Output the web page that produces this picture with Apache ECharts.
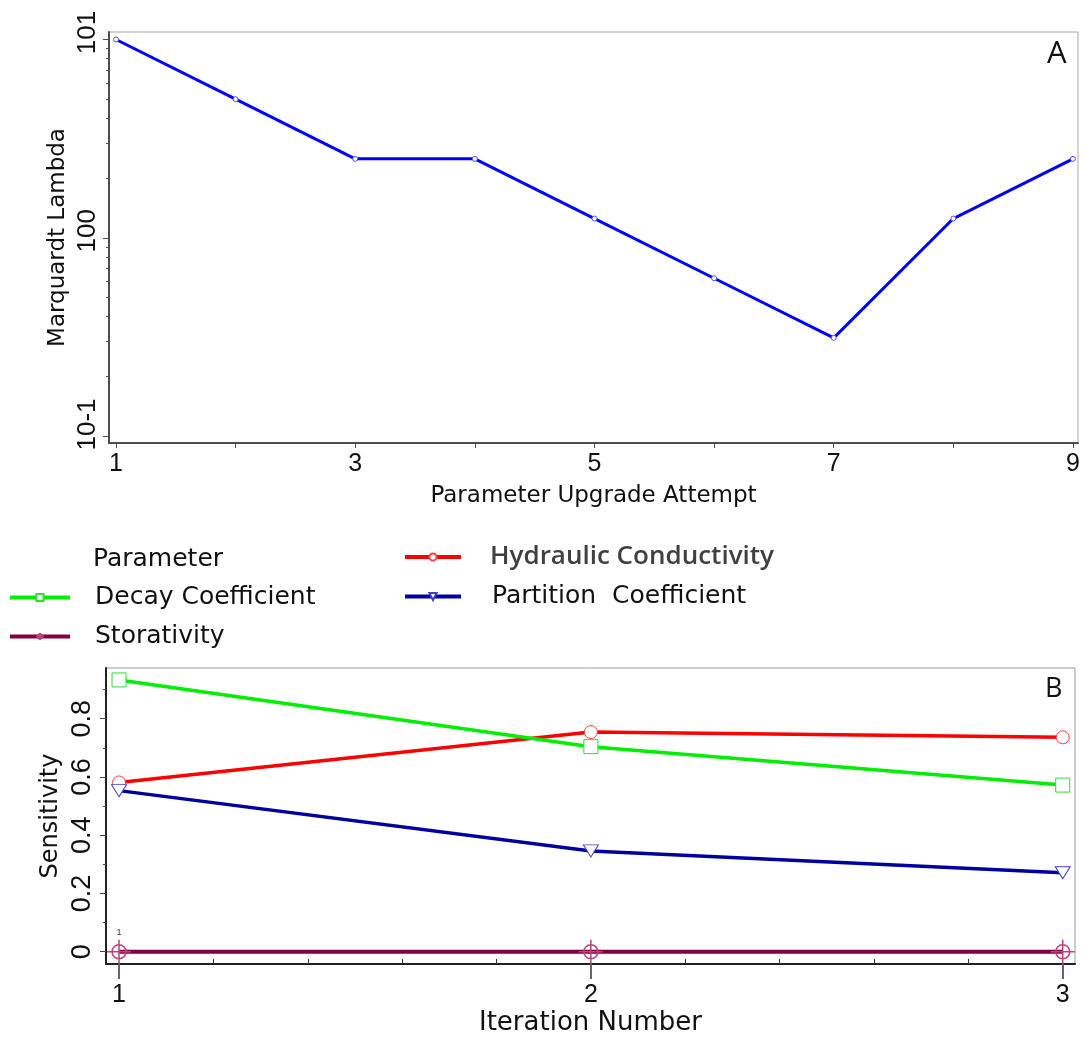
<!DOCTYPE html>
<html><head><meta charset="utf-8">
<script src="https://cdn.jsdelivr.net/npm/echarts@6/dist/echarts.min.js"></script>
<style>html,body{margin:0;padding:0;background:#fff}#c{width:1083px;height:1040px}</style>
</head><body><div id="c"></div>
<script>
// ---------- Panel A data ----------
const attempts = [1, 2, 3, 4, 5, 6, 7, 8, 9];
const lambdaValues = [10, 5, 2.5, 2.5, 1.25, 0.625, 0.3125, 1.25, 2.5];
const attemptTicks = [1, 2, 3, 4, 5, 6, 7, 8, 9];
const attemptLabels = [1, 3, 5, 7, 9];
const attemptRange = [0.9415, 9.042];
const lambdaMajorTicks = [0.1, 1, 10];
const lambdaMinorTicks = [0.2, 0.3, 0.4, 0.5, 0.6, 0.7, 0.8, 0.9, 2, 3, 4, 5, 6, 7, 8, 9];
const lambdaRange = [0.0922, 10.91];

// ---------- Panel B data ----------
const iterations = [1, 2, 3];
const hydraulic = [0.581, 0.754, 0.736];
const decay = [0.933, 0.704, 0.572];
const partition = [0.553, 0.346, 0.271];
const storativity = [0, 0, 0];
const iterMajorTicks = [1, 2, 3];
const iterMinorTicks = [1.2, 1.4, 1.6, 1.8, 2.2, 2.4, 2.6, 2.8];
const iterRange = [0.9724, 3.026];
const sensMajorTicks = [0, 0.2, 0.4, 0.6, 0.8];
const sensMinorTicks = [0.1, 0.3, 0.5, 0.7, 0.9];
const sensRange = [-0.0422, 0.974];

const SANS = 'DejaVu Sans';
const ARIAL = 'Liberation Sans';
const TXT = '#111';

const pairs = (xs, ys) => xs.map((x, i) => [x, ys[i]]);
const lg = v => Math.log10(v);

const chart = echarts.init(document.getElementById('c'), null, {renderer: 'canvas'});

const option = {
  animation: false,
  backgroundColor: '#fff',
  title: [
    {text: 'A', left: 1047, top: 39, padding: 0,
     textStyle: {fontFamily: 'Open Sans', fontSize: 31, fontWeight: 'normal', color: TXT}},
    {text: 'B', left: 1045, top: 676, padding: 0,
     textStyle: {fontFamily: 'Open Sans', fontSize: 27, fontWeight: 'normal', color: TXT}},
    {text: 'Parameter', left: 93, top: 547, padding: 0,
     textStyle: {fontFamily: SANS, fontSize: 25, fontWeight: 'normal', color: TXT}}
  ],
  legend: [
    {
      data: ['Decay Coefficient', 'Storativity'],
      orient: 'vertical', left: 8, top: 585, padding: 0,
      itemWidth: 60, itemHeight: 9, itemGap: 14, selectedMode: false,
      lineStyle: {width: 4},
      textStyle: {fontFamily: SANS, fontSize: 25, color: TXT, padding: [0, 0, 0, 20]}
    },
    {
      data: [
        {name: 'Hydraulic Conductivity',
         textStyle: {fontFamily: 'Open Sans', fontWeight: 600, fontSize: 26, color: '#404040', padding: [0, 0, 0, 24]}},
        {name: 'Partition  Coefficient',
         textStyle: {fontFamily: SANS, fontSize: 25, color: TXT, padding: [0, 0, 0, 26]}}
      ],
      orient: 'vertical', left: 403, top: 544, padding: 0,
      itemWidth: 56, itemHeight: 9, itemGap: 14, selectedMode: false,
      lineStyle: {width: 4},
      textStyle: {fontFamily: SANS, fontSize: 25, color: TXT}
    }
  ],
  grid: [
    {left: 109, right: 5, top: 32, height: 411, show: true, borderColor: '#a8a8a8', borderWidth: 1,
     containLabel: false, outerBoundsMode: 'none'},
    {left: 106, right: 8, top: 668, height: 296, show: true, borderColor: '#9a9a9a', borderWidth: 1,
     containLabel: false, outerBoundsMode: 'none'}
  ],
  xAxis: [
    { // 0: panel A
      gridIndex: 0, type: 'value', position: 'bottom',
      min: attemptRange[0], max: attemptRange[1],
      axisLine: {show: true, onZero: false, lineStyle: {color: '#4d4d4d', width: 2}},
      axisTick: {show: true, customValues: attemptTicks, length: 5, lineStyle: {color: '#4d4d4d', width: 1}},
      axisLabel: {show: true, customValues: attemptLabels, margin: 9, fontFamily: ARIAL, fontSize: 25, color: TXT},
      splitLine: {show: false},
      name: 'Parameter Upgrade Attempt', nameLocation: 'middle', nameGap: 42, nameMoveOverlap: false,
      nameTextStyle: {fontFamily: SANS, fontSize: 23, color: TXT}
    },
    { // 1: panel B main
      gridIndex: 1, type: 'value', position: 'bottom',
      min: iterRange[0], max: iterRange[1],
      axisLine: {show: true, onZero: false, lineStyle: {color: '#222', width: 2}},
      axisTick: {show: true, customValues: iterMajorTicks, length: 15, lineStyle: {color: '#666', width: 2}},
      axisLabel: {show: true, customValues: iterMajorTicks, margin: 19, fontFamily: ARIAL, fontSize: 25, color: TXT},
      splitLine: {show: false},
      name: 'Iteration Number', nameLocation: 'middle', nameGap: 46, nameMoveOverlap: false,
      nameTextStyle: {fontFamily: SANS, fontSize: 26, color: TXT}
    },
    { // 2: panel B minor (inside) ticks
      gridIndex: 1, type: 'value', position: 'bottom',
      min: iterRange[0], max: iterRange[1],
      axisLine: {show: false, onZero: false},
      axisTick: {show: true, inside: true, customValues: iterMinorTicks, length: 5, lineStyle: {color: '#333', width: 1}},
      axisLabel: {show: false},
      splitLine: {show: false}
    }
  ],
  yAxis: [
    { // 0: panel A log axis (data)
      gridIndex: 0, type: 'log', logBase: 10, position: 'left',
      min: lambdaRange[0], max: lambdaRange[1],
      axisLine: {show: true, onZero: false, lineStyle: {color: '#4d4d4d', width: 2}},
      axisTick: {show: false}, axisLabel: {show: false}, splitLine: {show: false}, minorTick: {show: false},
      name: 'Marquardt Lambda', nameLocation: 'middle', nameGap: 39, nameMoveOverlap: false,
      nameTextStyle: {fontFamily: SANS, fontSize: 23, color: TXT}
    },
    { // 1: panel A decade ticks + labels (log10 positions)
      gridIndex: 0, type: 'value', position: 'left',
      min: lg(lambdaRange[0]), max: lg(lambdaRange[1]),
      axisLine: {show: false, onZero: false},
      axisTick: {show: true, customValues: lambdaMajorTicks.map(lg), length: 6, lineStyle: {color: '#4d4d4d', width: 1}},
      axisLabel: {
        show: true, customValues: lambdaMajorTicks.map(lg), rotate: 90, margin: 8,
        formatter: v => { const e = Math.round(v); return '{' + (e < 0 ? 'w' : 'n') + '|10' + e + '}'; },
        rich: {
          n: {fontFamily: ARIAL, fontSize: 26, color: TXT, padding: [0, 0, 0, 14]},
          w: {fontFamily: ARIAL, fontSize: 26, color: TXT, padding: [0, 0, 0, 23]}
        }
      },
      splitLine: {show: false}
    },
    { // 2: panel A minor log ticks
      gridIndex: 0, type: 'value', position: 'left',
      min: lg(lambdaRange[0]), max: lg(lambdaRange[1]),
      axisLine: {show: false, onZero: false},
      axisTick: {show: true, customValues: lambdaMinorTicks.map(lg), length: 3, lineStyle: {color: '#4d4d4d', width: 1}},
      axisLabel: {show: false}, splitLine: {show: false}
    },
    { // 3: panel B main
      gridIndex: 1, type: 'value', position: 'left',
      min: sensRange[0], max: sensRange[1],
      axisLine: {show: true, onZero: false, lineStyle: {color: '#222', width: 2}},
      axisTick: {show: true, customValues: sensMajorTicks, length: 6, lineStyle: {color: '#444', width: 1}},
      axisLabel: {show: true, customValues: sensMajorTicks, rotate: 90, margin: 10,
                  fontFamily: ARIAL, fontSize: 27, color: TXT},
      splitLine: {show: false},
      name: 'Sensitivity', nameLocation: 'middle', nameGap: 43, nameMoveOverlap: false,
      nameTextStyle: {fontFamily: SANS, fontSize: 24, color: TXT}
    },
    { // 4: panel B minor ticks
      gridIndex: 1, type: 'value', position: 'left',
      min: sensRange[0], max: sensRange[1],
      axisLine: {show: false, onZero: false},
      axisTick: {show: true, customValues: sensMinorTicks, length: 3, lineStyle: {color: '#444', width: 1}},
      axisLabel: {show: false}, splitLine: {show: false}
    }
  ],
  series: [
    {
      name: 'Marquardt Lambda', type: 'line', xAxisIndex: 0, yAxisIndex: 0,
      data: pairs(attempts, lambdaValues),
      symbol: 'circle', symbolSize: 5, showSymbol: true,
      lineStyle: {color: '#0000ff', width: 3},
      itemStyle: {color: '#ffffff', borderColor: '#5050ff', borderWidth: 1},
      z: 3
    },
    {
      name: 'Storativity', type: 'line', xAxisIndex: 1, yAxisIndex: 3,
      data: pairs(iterations, storativity).map((p, i) => i === 0
        ? {value: p, label: {show: true, formatter: '1', position: 'top', distance: 2, fontSize: 9, color: '#333', fontFamily: ARIAL}}
        : {value: p}),
      symbol: 'path://M12,0 L12,24 M0,12 L24,12 M19,12 A7,7 0 1 1 5,12 A7,7 0 1 1 19,12 Z',
      symbolSize: 24,
      lineStyle: {color: '#800040', width: 4},
      itemStyle: {color: 'rgba(255,255,255,0)', borderColor: '#c0407f', borderWidth: 1.5},
      z: 3
    },
    {
      name: 'Hydraulic Conductivity', type: 'line', xAxisIndex: 1, yAxisIndex: 3,
      data: pairs(iterations, hydraulic),
      symbol: 'circle', symbolSize: 13,
      lineStyle: {color: '#ff0000', width: 3.5},
      itemStyle: {color: '#ffffff', borderColor: '#ff4040', borderWidth: 1},
      z: 4
    },
    {
      name: 'Decay Coefficient', type: 'line', xAxisIndex: 1, yAxisIndex: 3,
      data: pairs(iterations, decay),
      symbol: 'rect', symbolSize: 14,
      lineStyle: {color: '#00ee00', width: 3.5},
      itemStyle: {color: '#ffffff', borderColor: '#33dd33', borderWidth: 1},
      z: 5
    },
    {
      name: 'Partition  Coefficient', type: 'line', xAxisIndex: 1, yAxisIndex: 3,
      data: pairs(iterations, partition),
      symbol: 'triangle', symbolRotate: 180, symbolSize: [15, 12],
      lineStyle: {color: '#0000a0', width: 3.5},
      itemStyle: {color: '#ffffff', borderColor: '#4040c0', borderWidth: 1},
      z: 4
    }
  ]
};
chart.setOption(option);
</script>
</body></html>
